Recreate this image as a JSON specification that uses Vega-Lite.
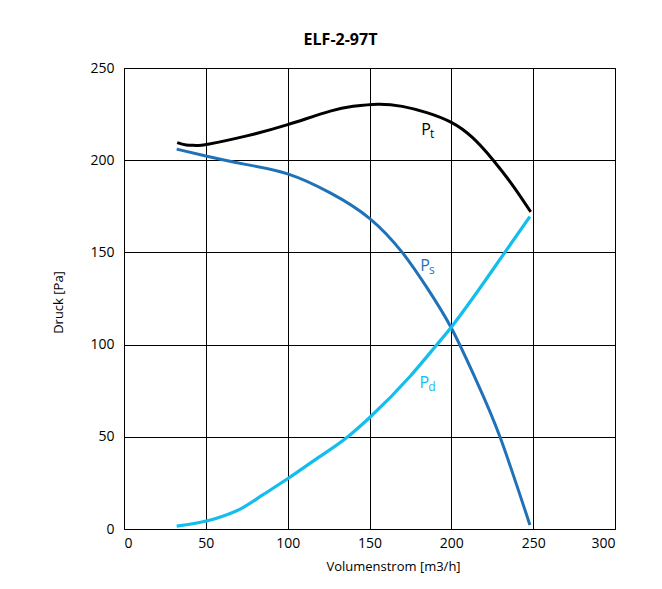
{
  "$schema": "https://vega.github.io/schema/vega-lite/v6.json",
  "autosize": {"type": "none"},
  "padding": {"left": 124, "top": 68, "right": 47, "bottom": 60},
  "width": 491,
  "height": 461,
  "background": "white",
  "title": {"text": "ELF-2-97T", "fontSize": 16, "fontWeight": "bold", "font": "Open Sans", "color": "black", "dx": -29, "offset": 13},
  "config": {
    "view": {"stroke": "black", "strokeWidth": 1},
    "axis": {
      "grid": true, "gridColor": "black", "gridOpacity": 1, "gridWidth": 1,
      "ticks": false, "domain": false,
      "labelFont": "Open Sans", "labelFontSize": 14, "labelColor": "black",
      "titleFont": "Open Sans", "titleFontSize": 13, "titleFontWeight": "normal", "titleColor": "black"
    }
  },
  "datasets": {
    "curves": [
      {"series": "Pt", "q": 32.5, "p": 209.5},
      {"series": "Pt", "q": 38, "p": 208.3},
      {"series": "Pt", "q": 44, "p": 208},
      {"series": "Pt", "q": 50.5, "p": 208.5},
      {"series": "Pt", "q": 75, "p": 213.2},
      {"series": "Pt", "q": 100, "p": 219.3},
      {"series": "Pt", "q": 126, "p": 226.6},
      {"series": "Pt", "q": 140, "p": 229.2},
      {"series": "Pt", "q": 155, "p": 230.4},
      {"series": "Pt", "q": 170, "p": 229.2},
      {"series": "Pt", "q": 185, "p": 225.8},
      {"series": "Pt", "q": 200, "p": 220.5},
      {"series": "Pt", "q": 213, "p": 212.2},
      {"series": "Pt", "q": 225.6, "p": 200},
      {"series": "Pt", "q": 237.8, "p": 186},
      {"series": "Pt", "q": 248.5, "p": 172},
      {"series": "Ps", "q": 32.2, "p": 206},
      {"series": "Ps", "q": 50, "p": 202.3},
      {"series": "Ps", "q": 75, "p": 197.6},
      {"series": "Ps", "q": 100, "p": 192.6},
      {"series": "Ps", "q": 126, "p": 182.3},
      {"series": "Ps", "q": 150, "p": 168.5},
      {"series": "Ps", "q": 170, "p": 150},
      {"series": "Ps", "q": 185, "p": 131},
      {"series": "Ps", "q": 200, "p": 109},
      {"series": "Ps", "q": 215, "p": 81},
      {"series": "Ps", "q": 229.7, "p": 50},
      {"series": "Ps", "q": 248, "p": 2.2},
      {"series": "Pd", "q": 32.2, "p": 1.6},
      {"series": "Pd", "q": 54.6, "p": 5.3},
      {"series": "Pd", "q": 71.9, "p": 11.2},
      {"series": "Pd", "q": 85, "p": 18.6},
      {"series": "Pd", "q": 100.4, "p": 27.5},
      {"series": "Pd", "q": 118, "p": 38.3},
      {"series": "Pd", "q": 136, "p": 49.5},
      {"series": "Pd", "q": 150.3, "p": 60.6},
      {"series": "Pd", "q": 175, "p": 83},
      {"series": "Pd", "q": 191, "p": 99.8},
      {"series": "Pd", "q": 200.2, "p": 109.7},
      {"series": "Pd", "q": 216, "p": 128.8},
      {"series": "Pd", "q": 232.7, "p": 150},
      {"series": "Pd", "q": 248, "p": 169.4}
    ],
    "labels": [
      {"series": "Pt", "q": 184.5, "p": 216.9, "main": "P", "sub": "t"},
      {"series": "Ps", "q": 183.9, "p": 143.4, "main": "P", "sub": "s"},
      {"series": "Pd", "q": 183.5, "p": 79.7, "main": "P", "sub": "d"}
    ]
  },
  "encoding": {
    "x": {"field": "q", "type": "quantitative", "scale": {"domain": [0, 300], "nice": false},
          "axis": {"values": [0, 50, 100, 150, 200, 250, 300], "title": "Volumenstrom [m3/h]", "labelPadding": 7, "titlePadding": 10, "titleX": 269}},
    "y": {"field": "p", "type": "quantitative", "scale": {"domain": [0, 250], "nice": false},
          "axis": {"values": [0, 50, 100, 150, 200, 250], "title": "Druck [Pa]", "labelPadding": 10, "titleX": -66, "titleY": 234, "titleBaseline": "middle"}},
    "color": {"field": "series", "type": "nominal", "scale": {"domain": ["Pt", "Ps", "Pd"], "range": ["#000000", "#1f71b8", "#13bdee"]}, "legend": null}
  },
  "layer": [
    {
      "data": {"name": "curves"},
      "transform": [{"filter": "datum.series !== 'Pd'"}],
      "mark": {"type": "line", "interpolate": "natural", "strokeWidth": 3, "strokeCap": "butt"}
    },
    {
      "data": {"name": "curves"},
      "transform": [{"filter": "datum.series === 'Pd'"}],
      "mark": {"type": "line", "interpolate": "monotone", "strokeWidth": 3.2, "strokeCap": "butt"}
    },
    {
      "data": {"name": "labels"},
      "mark": {"type": "text", "font": "Open Sans", "fontSize": 16, "align": "center", "baseline": "alphabetic", "dy": 6},
      "encoding": {"text": {"field": "main"}}
    },
    {
      "data": {"name": "labels"},
      "mark": {"type": "text", "font": "Open Sans", "fontSize": 12, "align": "left", "baseline": "alphabetic", "dx": 4, "dy": 9},
      "encoding": {"text": {"field": "sub"}}
    }
  ]
}
